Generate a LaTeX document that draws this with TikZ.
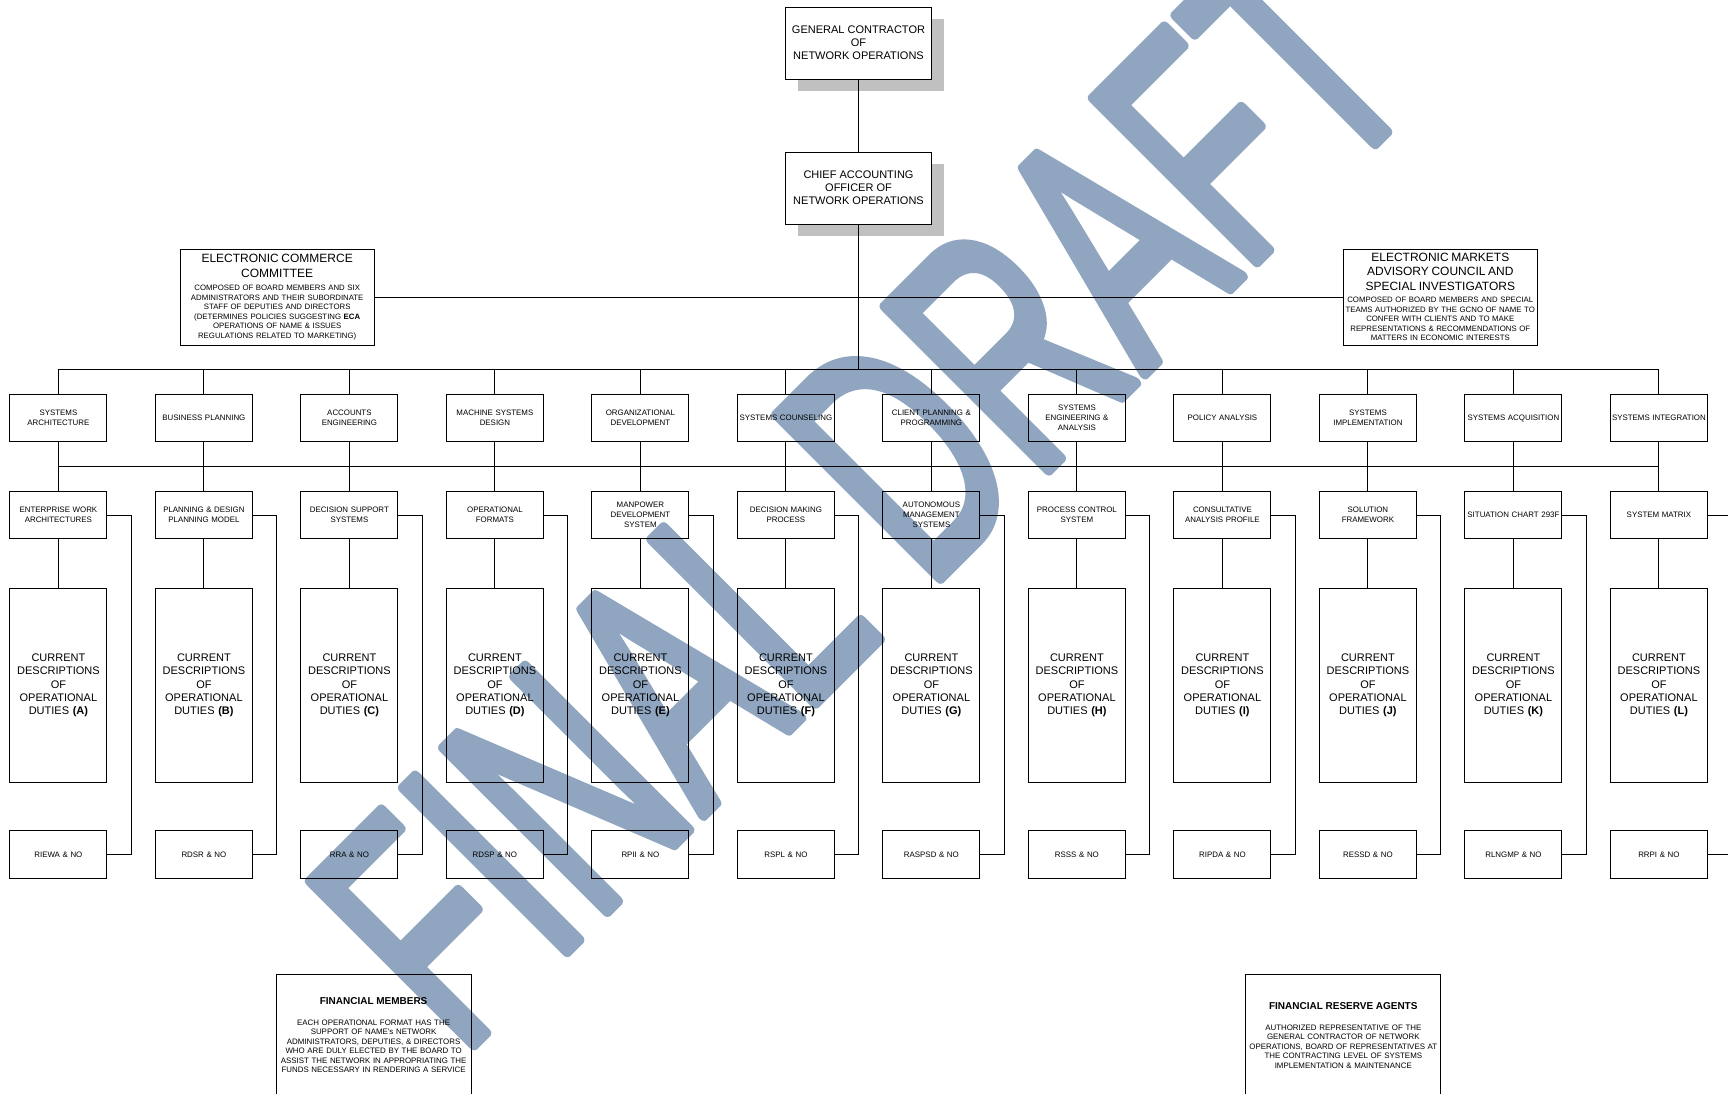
\documentclass[tikz,border=0pt]{standalone}
\usepackage{fontspec}
\setmainfont{Liberation Sans}
\newfontfamily\markfont[FakeBold=3.5]{Liberation Sans}
\usetikzlibrary{positioning,shadows}
\definecolor{markblue}{RGB}{143,165,192}
\definecolor{shadowgray}{RGB}{192,192,192}
\begin{document}
\begin{tikzpicture}[x=1pt,y=1pt,line width=0.9pt,
  headbox/.style={draw,fill=white,align=center,minimum width=145.5pt,minimum height=72pt,inner sep=1pt,
    font=\fontsize{11}{13.2}\selectfont,
    drop shadow={shadow xshift=12.5pt,shadow yshift=-12.5pt,fill=shadowgray,opacity=1}},
  councilbox/.style={draw,align=center,text width=192pt,minimum height=96pt,inner xsep=1pt,inner ysep=0pt,
    font=\fontsize{7.8}{9.5}\selectfont},
  unitbox/.style={draw,align=center,text width=95pt,minimum height=47.4pt,inner xsep=1pt,inner ysep=0pt,
    font=\fontsize{7.9}{9.9}\selectfont},
  dutybox/.style={draw,align=center,text width=95pt,minimum height=194pt,inner xsep=1pt,
    font=\fontsize{11}{13.2}\selectfont},
  notebox/.style={minimum width=194pt,minimum height=121pt,inner sep=0pt},
  notetext/.style={align=center,text width=194pt,inner sep=0pt,font=\fontsize{7.9}{9.5}\selectfont}]
\useasboundingbox (0,0) rectangle (1728,1094);

% watermark
\begin{scope}[shift={(460,36)},rotate=45,xscale=0.633]
  \node[transform shape,anchor=base west,inner sep=0pt,text=markblue,line join=round,
    font=\markfont\fontsize{335}{335}\selectfont] (draftmark) at (0,0) {FINAL DRAFT};
\end{scope}

% top of the chart
\node[headbox] (gcno) at (858.5,1051) {GENERAL CONTRACTOR\\OF\\NETWORK OPERATIONS};
\node[headbox] (cao) at (858.5,906) {CHIEF ACCOUNTING\\OFFICER OF\\NETWORK OPERATIONS};
\node[councilbox] (ecc) at (277.2,797) {{\fontsize{12}{14.3}\selectfont ELECTRONIC COMMERCE\\COMMITTEE\par}\vspace{4pt}
  COMPOSED OF BOARD MEMBERS AND SIX\\ADMINISTRATORS AND THEIR SUBORDINATE\\STAFF OF DEPUTIES AND DIRECTORS\\
  (DETERMINES POLICIES SUGGESTING \textbf{ECA}\\OPERATIONS OF NAME \& ISSUES\\REGULATIONS RELATED TO MARKETING)};
\node[councilbox] (emac) at (1440.3,797) {{\fontsize{12}{14.3}\selectfont ELECTRONIC MARKETS\\ADVISORY COUNCIL AND\\SPECIAL INVESTIGATORS\par}\vspace{3pt}
  COMPOSED OF BOARD MEMBERS AND SPECIAL\\TEAMS AUTHORIZED BY THE GCNO OF NAME TO\\CONFER WITH CLIENTS AND TO MAKE\\
  REPRESENTATIONS \& RECOMMENDATIONS OF\\MATTERS IN ECONOMIC INTERESTS};

\coordinate (bustop) at (0,724.8);
\coordinate (busmid) at (0,628);

\draw (gcno.south) -- (cao.north);
\draw (cao.south) -- (cao.south |- bustop);
\draw (ecc.east) -- (emac.west);

% twelve columns
\foreach \unitname/\subname/\repname/\dutyletter [count=\i] in {
  {SYSTEMS\\ARCHITECTURE}/{ENTERPRISE WORK\\ARCHITECTURES}/RIEWA/A,
  {BUSINESS PLANNING}/{PLANNING \& DESIGN\\PLANNING MODEL}/RDSR/B,
  {ACCOUNTS\\ENGINEERING}/{DECISION SUPPORT\\SYSTEMS}/RRA/C,
  {MACHINE SYSTEMS\\DESIGN}/{OPERATIONAL\\FORMATS}/RDSP/D,
  {ORGANIZATIONAL\\DEVELOPMENT}/{MANPOWER\\DEVELOPMENT\\SYSTEM}/RPII/E,
  {SYSTEMS COUNSELING}/{DECISION MAKING\\PROCESS}/RSPL/F,
  {CLIENT PLANNING \&\\PROGRAMMING}/{AUTONOMOUS\\MANAGEMENT\\SYSTEMS}/RASPSD/G,
  {SYSTEMS\\ENGINEERING \&\\ANALYSIS}/{PROCESS CONTROL\\SYSTEM}/RSSS/H,
  {POLICY ANALYSIS}/{CONSULTATIVE\\ANALYSIS PROFILE}/RIPDA/I,
  {SYSTEMS\\IMPLEMENTATION}/{SOLUTION\\FRAMEWORK}/RESSD/J,
  {SYSTEMS ACQUISITION}/{SITUATION CHART 293F}/RLNGMP/K,
  {SYSTEMS INTEGRATION}/{SYSTEM MATRIX}/RRPI/L}
{
  \pgfmathsetmacro{\colx}{58.4+145.5*(\i-1)}
  \node[unitbox] (unit\i) at (\colx,676) {\unitname};
  \node[unitbox] (sub\i) at (\colx,579) {\subname};
  \node[dutybox] (duty\i) at (\colx,408.5) {CURRENT\\DESCRIPTIONS\\OF\\OPERATIONAL\\DUTIES \textbf{(\dutyletter)}};
  \node[unitbox] (rep\i) at (\colx,239.5) {\repname\ \& NO};
  \draw (unit\i.north) -- (unit\i.north |- bustop);
  \draw (unit\i.south) -- (sub\i.north);
  \draw (sub\i.south) -- (duty\i.north);
  \draw (sub\i.east) -- ++(24,0) |- (rep\i.east);
}
\draw (unit1.north |- bustop) -- (unit12.north |- bustop);
\draw (unit1.south |- busmid) -- (unit12.south |- busmid);

% notes at the bottom, cut by the page edge
\node[notebox] (finmem) at (373.6,58.2) {};
\draw (finmem.south west) -- (finmem.north west) -- (finmem.north east) -- (finmem.south east);
\node[notetext,below=22pt of finmem.north] (finmemtext) {{\fontsize{10}{12}\selectfont\bfseries FINANCIAL MEMBERS\par}\vspace{11.5pt}
  EACH OPERATIONAL FORMAT HAS THE\\SUPPORT OF NAME's NETWORK\\ADMINISTRATORS, DEPUTIES, \& DIRECTORS\\
  WHO ARE DULY ELECTED BY THE BOARD TO\\ASSIST THE NETWORK IN APPROPRIATING THE\\FUNDS NECESSARY IN RENDERING A SERVICE};
\node[notebox] (finres) at (1343.3,58.2) {};
\draw (finres.south west) -- (finres.north west) -- (finres.north east) -- (finres.south east);
\node[notetext,below=27pt of finres.north] (finrestext) {{\fontsize{10}{12}\selectfont\bfseries FINANCIAL RESERVE AGENTS\par}\vspace{11.5pt}
  AUTHORIZED REPRESENTATIVE OF THE\\GENERAL CONTRACTOR OF NETWORK\\OPERATIONS, BOARD OF REPRESENTATIVES AT\\
  THE CONTRACTING LEVEL OF SYSTEMS\\IMPLEMENTATION \& MAINTENANCE};
\end{tikzpicture}
\end{document}
